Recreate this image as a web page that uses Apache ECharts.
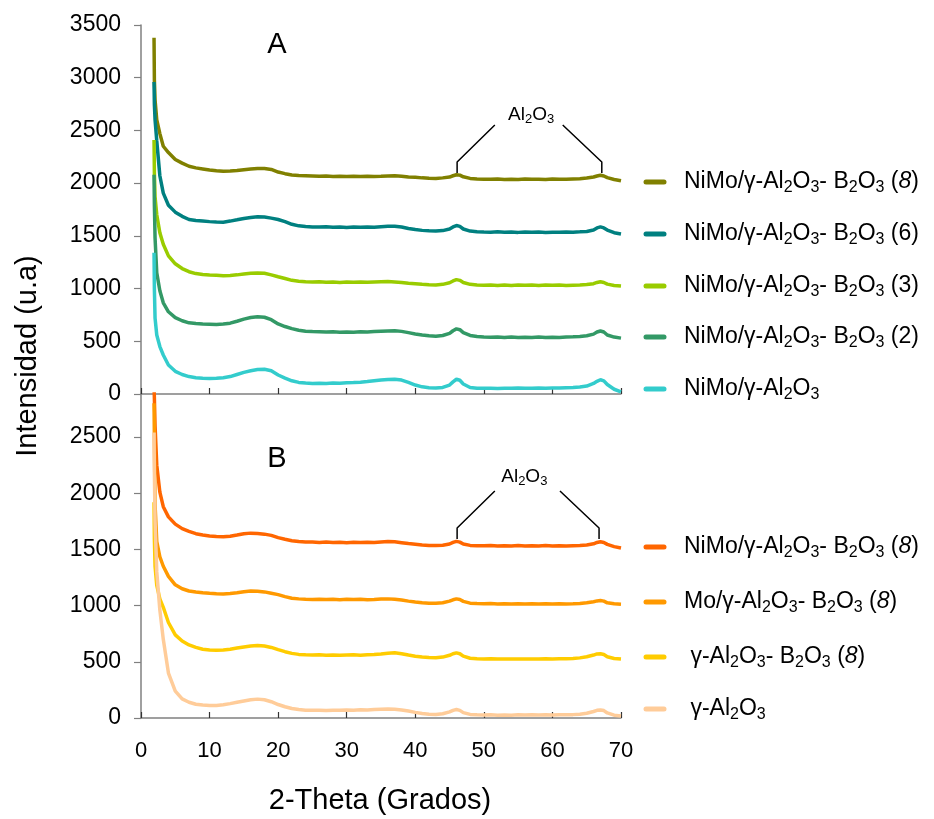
<!DOCTYPE html>
<html><head><meta charset="utf-8">
<script src="https://cdn.jsdelivr.net/npm/echarts@6/dist/echarts.min.js"></script>
<style>html,body{margin:0;padding:0;background:#fff}#c{width:934px;height:819px}</style>
</head><body><div id="c"></div>
<script>
// Shared 2-theta positions (degrees)
const X = [1.9,1.95,2.05,2.3,2.75,3.25,4,5,6,7,8,9,10,11,12,13,14,15,16,17,18,19,20,21,22,23,24,25,26,27,28,29,30,31,32,33,34,35,36,37,38,39,40,41,42,43,44,45,45.5,46,46.5,47,48,49,50,51,52,53,54,55,56,57,58,59,60,61,62,63,64,65,66,66.5,67,67.5,68,69,70];

// Panel A
const A_NiMo_AB8 = [3380,2980,2790,2600,2470,2350,2290,
2225,2190,2160,2145,2135,2125,2118,2112,2115,2120,
2128,2135,2140,2138,2130,2105,2090,2078,2072,2070,
2068,2066,2068,2064,2066,2063,2065,2062,2066,2063,
2065,2068,2070,2066,2058,2055,2050,2046,2045,2050,
2058,
2070,2080,2076,2060,
2045,2040,2038,2036,2040,2035,2038,2034,2040,2036,
2038,2035,2040,2036,2038,2040,2042,2048,2058,
2068,2075,2068,
2052,2035,2022];
const A_NiMo_AB6 = [2960,2750,2600,2400,2070,1905,1790,
1725,1685,1655,1645,1640,1635,1632,1630,1640,1652,
1665,1675,1682,1678,1668,1655,1635,1610,1595,1588,
1585,1583,1586,1582,1584,1580,1583,1581,1584,1582,
1586,1590,1592,1584,1570,1560,1552,1548,1546,1550,
1565,
1585,1598,1590,1565,
1545,1538,1536,1535,1538,1534,1536,1533,1537,1534,
1536,1533,1535,1534,1536,1535,1538,1542,1555,
1575,1585,1575,
1555,1530,1518];
const A_NiMo_AB3 = [2410,2100,1870,1700,1530,1420,1310,
1235,1190,1160,1142,1133,1128,1126,1122,1125,1130,
1138,1145,1148,1145,1130,1112,1095,1078,1070,1065,
1062,1064,1060,1062,1058,1062,1060,1063,1059,1062,
1064,1066,1062,1058,1050,1045,1040,1036,1035,1040,
1055,
1072,1085,1078,1058,
1040,1034,1032,1034,1030,1033,1030,1034,1031,1033,
1030,1034,1031,1033,1030,1032,1034,1038,1046,
1058,1065,1058,
1042,1030,1024];
const A_NiMo_AB2 = [2080,1800,1480,1150,980,865,780,
725,695,675,668,664,662,660,663,672,690,
710,725,732,728,705,665,640,620,605,596,
592,590,588,590,586,588,586,590,588,592,
595,598,600,594,582,570,560,552,548,555,
575,
600,618,610,582,
555,545,540,538,540,537,540,536,539,537,
540,536,539,537,540,542,545,552,568,
588,598,588,
560,540,530];
const A_NiMo_A = [1340,1000,720,560,450,370,275,
215,185,165,155,150,148,150,155,165,185,
205,220,232,235,220,180,150,125,110,104,
100,102,100,104,102,106,108,112,118,125,
132,138,140,132,110,85,68,60,56,62,
85,
115,140,130,95,
62,55,54,55,53,55,54,56,54,55,
57,55,58,57,60,62,66,75,100,
120,135,125,
90,45,20];

// Panel B
const B_NiMo_AB8 = [2950,2850,2600,2250,2010,1880,1790,
1725,1685,1660,1640,1628,1620,1615,1612,1618,1628,
1640,1645,1642,1636,1625,1605,1590,1578,1570,1566,
1565,1562,1565,1561,1564,1560,1563,1561,1564,1562,
1566,1570,1568,1560,1552,1546,1540,1536,1535,1538,
1548,
1562,1572,1565,1548,
1536,1533,1532,1534,1531,1533,1530,1534,1531,1533,
1530,1534,1531,1533,1531,1533,1535,1540,1550,
1562,1568,1562,
1545,1525,1512];
const B_Mo_AB8 = [2800,2500,1900,1570,1435,1350,1260,
1185,1150,1130,1122,1115,1110,1106,1104,1108,1115,
1124,1130,1128,1122,1110,1098,1080,1066,1060,1057,
1055,1057,1054,1056,1053,1056,1054,1057,1053,1055,
1058,1060,1057,1050,1040,1032,1025,1022,1021,1026,
1040,
1052,1060,1054,1038,
1022,1018,1016,1018,1015,1017,1014,1017,1015,1017,
1014,1016,1015,1017,1015,1016,1018,1025,1035,
1042,1045,1040,
1025,1016,1012];
const B_AB8 = [1920,1600,1350,1180,1060,985,850,
740,685,650,628,612,605,602,605,612,622,
632,640,645,640,628,608,590,575,566,562,
560,562,558,561,558,560,562,559,562,565,
570,576,580,572,560,550,543,538,536,542,
558,
572,580,572,550,
532,527,525,527,524,526,524,526,524,526,
525,527,526,528,527,530,535,545,560,
570,572,565,
545,530,525];
const B_A = [2540,2200,1750,1300,960,700,400,
240,170,140,122,115,112,112,118,128,140,
152,162,168,162,145,120,100,85,75,70,
68,70,67,70,68,72,70,74,72,76,
78,80,78,72,62,50,40,34,32,38,
55,
68,75,68,48,
32,28,26,28,25,27,25,28,26,28,
26,28,27,29,28,30,34,42,58,
68,72,66,
45,25,18];

const seriesA = [A_NiMo_AB8, A_NiMo_AB6, A_NiMo_AB3, A_NiMo_AB2, A_NiMo_A];
const seriesB = [B_NiMo_AB8, B_Mo_AB8, B_AB8, B_A];
const namesA = ['NiMo/γ-Al2O3- B2O3 (8)','NiMo/γ-Al2O3- B2O3 (6)','NiMo/γ-Al2O3- B2O3 (3)','NiMo/γ-Al2O3- B2O3 (2)','NiMo/γ-Al2O3'];
const namesB = ['NiMo/γ-Al2O3- B2O3 (8) B','Mo/γ-Al2O3- B2O3 (8)','γ-Al2O3- B2O3 (8)','γ-Al2O3'];
const labelsA = ['NiMo/γ-Al{s|2}O{s|3}- B{s|2}O{s|3} ({i|8})','NiMo/γ-Al{s|2}O{s|3}- B{s|2}O{s|3} (6)','NiMo/γ-Al{s|2}O{s|3}- B{s|2}O{s|3} (3)','NiMo/γ-Al{s|2}O{s|3}- B{s|2}O{s|3} (2)','NiMo/γ-Al{s|2}O{s|3}'];
const labelsB = ['NiMo/γ-Al{s|2}O{s|3}- B{s|2}O{s|3} ({i|8})','Mo/γ-Al{s|2}O{s|3}- B{s|2}O{s|3} ({i|8})',' γ-Al{s|2}O{s|3}- B{s|2}O{s|3} ({i|8})',' γ-Al{s|2}O{s|3}'];
const colorsA = ['#808000','#008080','#99cc00','#339966','#33cccc'];
const colorsB = ['#ff6600','#ff9900','#ffcc00','#ffcc99'];

// Al2O3 annotation leaders (data space)
const annA_left = [[51.6,2551],[46.1,2200],[46.1,2096]];
const annA_right = [[61.5,2551],[67.2,2200],[67.2,2096]];
const annA_text = [56.9,2650];
const annB_left = [[51.6,2020],[46.1,1690],[46.1,1593]];
const annB_right = [[61.1,2020],[66.8,1690],[66.8,1593]];
const annB_text = [55.9,2148];

const FONT = '"Liberation Sans", Arial, Helvetica, sans-serif';
const chart = echarts.init(document.getElementById('c'), null, {renderer:'canvas'});

function pairs(arr){ return X.map((x,i)=>[x, arr[i]]); }
const axisGray = '#808080';

function xAx(gi, showLabel){
  return {type:'value', gridIndex:gi, min:0, max:70, interval:10,
    axisLine:{show:true, onZero:false, lineStyle:{color:axisGray, width:1.5}},
    axisTick:{show:true, inside:true, length:6, lineStyle:{color:'#333', width:1.2}},
    axisLabel:{show:showLabel, fontSize:22, color:'#000', fontFamily:FONT, margin:22, formatter:v=>String(v)},
    splitLine:{show:false}};
}
function yAx(gi, max){
  return {type:'value', gridIndex:gi, min:0, max:max, interval:500,
    axisLine:{show:true, lineStyle:{color:axisGray, width:1.5}},
    axisTick:{show:true, length:7, lineStyle:{color:axisGray, width:1.2}},
    axisLabel:{fontSize:23, color:'#000', fontFamily:FONT, margin:20, showMaxLabel: gi===0, formatter:v=>String(v)},
    splitLine:{show:false}};
}

const series = [];
seriesA.forEach((arr,i)=>series.push({name:namesA[i], type:'line', xAxisIndex:0, yAxisIndex:0, data:pairs(arr),
  showSymbol:false, symbol:'none', lineStyle:{color:colorsA[i], width:3.5}, itemStyle:{color:colorsA[i]}, clip:true, silent:true, animation:false}));
seriesB.forEach((arr,i)=>series.push({name:namesB[i], type:'line', xAxisIndex:1, yAxisIndex:1, data:pairs(arr),
  showSymbol:false, symbol:'none', lineStyle:{color:colorsB[i], width:3.5}, itemStyle:{color:colorsB[i]}, clip:true, silent:true, animation:false}));
[[annA_left,0],[annA_right,0],[annB_left,1],[annB_right,1]].forEach(([d,gi])=>series.push({type:'line', xAxisIndex:gi, yAxisIndex:gi, data:d,
  symbol:'none', lineStyle:{color:'#000', width:1.5}, silent:true, animation:false, z:5}));

chart.setOption({
  animation:false,
  backgroundColor:'#fff',
  grid:[{left:141, top:25, width:480, height:369}, {left:141, top:394, width:480, height:324}],
  xAxis:[xAx(0,false), xAx(1,true)],
  yAxis:[yAx(0,3500), yAx(1,2883)],
  series:series
});

const richMain = {
  s:{fontSize:16, lineHeight:16, verticalAlign:'bottom', fontFamily:FONT, fill:'#000'},
  i:{fontSize:23, lineHeight:28, fontStyle:'italic', fontFamily:FONT, fill:'#000'}
};
const richAnn = {
  s:{fontSize:13, lineHeight:13, verticalAlign:'bottom', fontFamily:FONT, fill:'#000'}
};

const g = [];
g.push({type:'text', x:28, y:356, rotation:Math.PI/2, style:{text:'Intensidad (u.a)', fontSize:29, fontFamily:FONT, fill:'#000', align:'center', verticalAlign:'middle'}});
g.push({type:'text', x:380, y:801, style:{text:'2-Theta (Grados)', fontSize:29, fontFamily:FONT, fill:'#000', align:'center', verticalAlign:'middle'}});
g.push({type:'text', x:277, y:45, style:{text:'A', fontSize:29, fontFamily:FONT, fill:'#000', align:'center', verticalAlign:'middle'}});
g.push({type:'text', x:277, y:459, style:{text:'B', fontSize:29, fontFamily:FONT, fill:'#000', align:'center', verticalAlign:'middle'}});

const rowsA = [182,234,286,337,389];
const rowsB = [547,602,657,709];
function legendRow(y, color, label){
  g.push({type:'line', shape:{x1:646, y1:y, x2:664, y2:y}, style:{stroke:color, lineWidth:5, lineCap:'round'}});
  g.push({type:'text', x:684, y:y, style:{text:label, fontSize:23, lineHeight:28, fontFamily:FONT, fill:'#000', align:'left', verticalAlign:'middle', rich:richMain}});
}
labelsA.forEach((l,i)=>legendRow(rowsA[i], colorsA[i], l));
labelsB.forEach((l,i)=>legendRow(rowsB[i], colorsB[i], l));

const pA = chart.convertToPixel({gridIndex:0}, annA_text);
const pB = chart.convertToPixel({gridIndex:1}, annB_text);
[pA,pB].forEach(p=>g.push({type:'text', x:p[0], y:p[1], style:{text:'Al{s|2}O{s|3}', fontSize:19, lineHeight:23, fontFamily:FONT, fill:'#000', align:'center', verticalAlign:'middle', rich:richAnn}}));

chart.setOption({graphic:g});
</script></body></html>
